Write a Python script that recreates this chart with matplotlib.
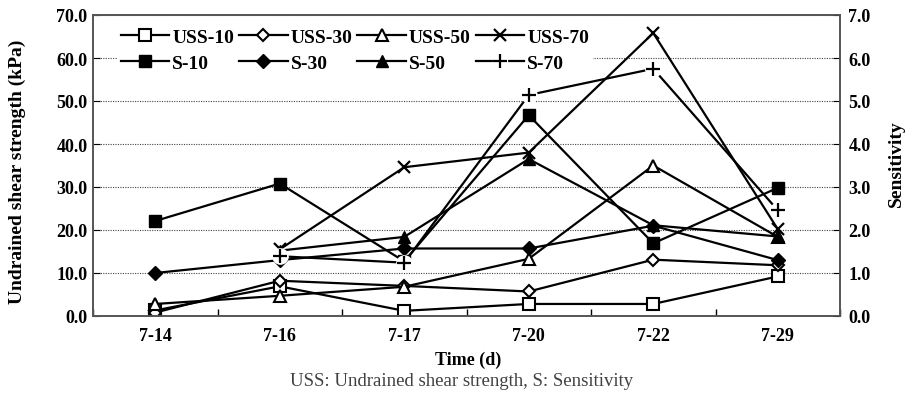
import numpy as np
import matplotlib
matplotlib.use('Agg')
import matplotlib.pyplot as plt
from matplotlib.lines import Line2D
from matplotlib.legend_handler import HandlerTuple

plt.rcParams['font.family'] = 'Liberation Serif'

# Datos
fechas = ['7-14', '7-16', '7-17', '7-20', '7-22', '7-29']
uss10 = [1.3, 6.9, 1.2, 2.8, 2.8, 9.2]
uss30 = [0.8, 8.2, 7.0, 5.7, 13.1, 11.8]
uss50 = [2.8, 4.7, 6.8, 13.3, 35.0, 18.4]
uss70 = [np.nan, 15.5, 34.6, 38.0, 65.8, 20.2]
s10 = [2.21, 3.08, 1.27, 4.67, 1.69, 2.98]
s30 = [1.00, 1.30, 1.57, 1.57, 2.10, 1.30]
s50 = [np.nan, 1.52, 1.84, 3.65, 2.11, 1.85]
s70 = [np.nan, 1.39, 1.24, 5.14, 5.75, 2.46]

x = np.arange(len(fechas))
fs = 13
lw = 1.6
W, H = 906, 414

fig = plt.figure(figsize=(W / 100, H / 100), dpi=100)
ax = fig.add_axes([93 / W, 1 - 317 / H, 747 / W, 301 / H])
ax2 = ax.twinx()

# Resistencia (eje izquierdo)
lineas = {}
for datos, m, nombre, ms in [(uss10, 's', 'USS-10', 8), (uss30, 'D', 'USS-30', 6.5),
                             (uss50, '^', 'USS-50', 9)]:
    l, = ax.plot(x, datos, color='k', lw=lw, marker=m, ms=ms, mfc='white',
                 mec='k', mew=1.5, label=nombre)
    lineas[nombre] = l
l, = ax.plot(x, uss70, color='k', lw=lw, marker='x', ms=9, mew=1.6, label='USS-70')
lineas['USS-70'] = l

# Sensibilidad (eje derecho)
for datos, m, nombre, ms in [(s10, 's', 'S-10', 9), (s30, 'D', 'S-30', 7), (s50, '^', 'S-50', 9)]:
    l, = ax2.plot(x, datos, color='k', lw=lw, marker=m, ms=ms, mfc='k', mec='k', label=nombre)
    lineas[nombre] = l

ax2.plot(x, s70, color='k', lw=lw)
ax2.plot(x, s70, ls='none', marker='o', ms=12, mfc='white', mec='none')
ax2.plot(x, s70, ls='none', marker='+', ms=10, mew=1.6, color='k')

ax.set_xlim(-0.5, 5.5)
ax.set_ylim(0, 70)
ax2.set_ylim(0, 7)
ax.set_yticks(np.arange(0, 71, 10))
ax2.set_yticks(np.arange(0, 7.1, 1))
ax.set_yticklabels([f'{v:.1f}' for v in np.arange(0, 71, 10)])
ax2.set_yticklabels([f'{v:.1f}' for v in np.arange(0, 7.1, 1)])
ax.set_xticks(x)
ax.set_xticklabels(fechas)
ax.set_xticks(np.arange(-0.5, 6, 1), minor=True)

ax.tick_params(axis='x', which='major', length=0, pad=8, labelsize=fs)
ax.tick_params(axis='x', which='minor', length=5, direction='in', width=1)
ax.tick_params(axis='y', direction='in', length=5, pad=4, labelsize=fs)
ax2.tick_params(axis='y', direction='in', length=5, pad=6, labelsize=fs)
for t in ax.get_xticklabels() + ax.get_yticklabels() + ax2.get_yticklabels():
    t.set_fontweight('bold')

ax.grid(axis='y', ls=(0, (1, 1.2)), color='#444444', lw=0.8)
ax.set_axisbelow(True)
for a in (ax, ax2):
    for s in a.spines.values():
        s.set_color('#555555')
        s.set_linewidth(1.2)

# Titulos de ejes y nota
fig.text(17 / W, 1 - 172 / H, 'Undrained shear strength (kPa)', rotation=90,
         ha='center', va='center', fontsize=14, fontweight='bold')
fig.text(896 / W, 1 - 164 / H, 'Sensitivity', rotation=90,
         ha='center', va='center', fontsize=14, fontweight='bold')
fig.text(468 / W, 1 - 360 / H, 'Time (d)', ha='center', va='center',
         fontsize=fs, fontweight='bold')
fig.text(462 / W, 1 - 382 / H, 'USS: Undrained shear strength, S: Sensitivity',
         ha='center', va='center', fontsize=13.5, color='#404040')

# Leyenda (orden por columnas)
h_s70 = (Line2D([], [], color='k', lw=lw),
         Line2D([], [], ls='none', marker='o', ms=11, mfc='white', mec='none'),
         Line2D([], [], ls='none', marker='+', ms=10, mew=1.6, color='k'))
handles = [lineas['USS-10'], lineas['S-10'], lineas['USS-30'], lineas['S-30'],
           lineas['USS-50'], lineas['S-50'], lineas['USS-70'], h_s70]
labels = ['USS-10', 'S-10', 'USS-30', 'S-30', 'USS-50', 'S-50', 'USS-70', 'S-70']
ax2.legend(handles, labels, ncol=4, loc='upper left', bbox_to_anchor=(0.032, 0.97),
           frameon=True, fancybox=False, edgecolor='none', facecolor='white',
           framealpha=1, prop={'weight': 'bold', 'size': 14}, borderpad=0.2,
           handlelength=2.5, handletextpad=0.15, columnspacing=0.25,
           labelspacing=0.44, borderaxespad=0,
           handler_map={tuple: HandlerTuple(ndivide=1, pad=0)})

fig.savefig('out.png', dpi=100)
